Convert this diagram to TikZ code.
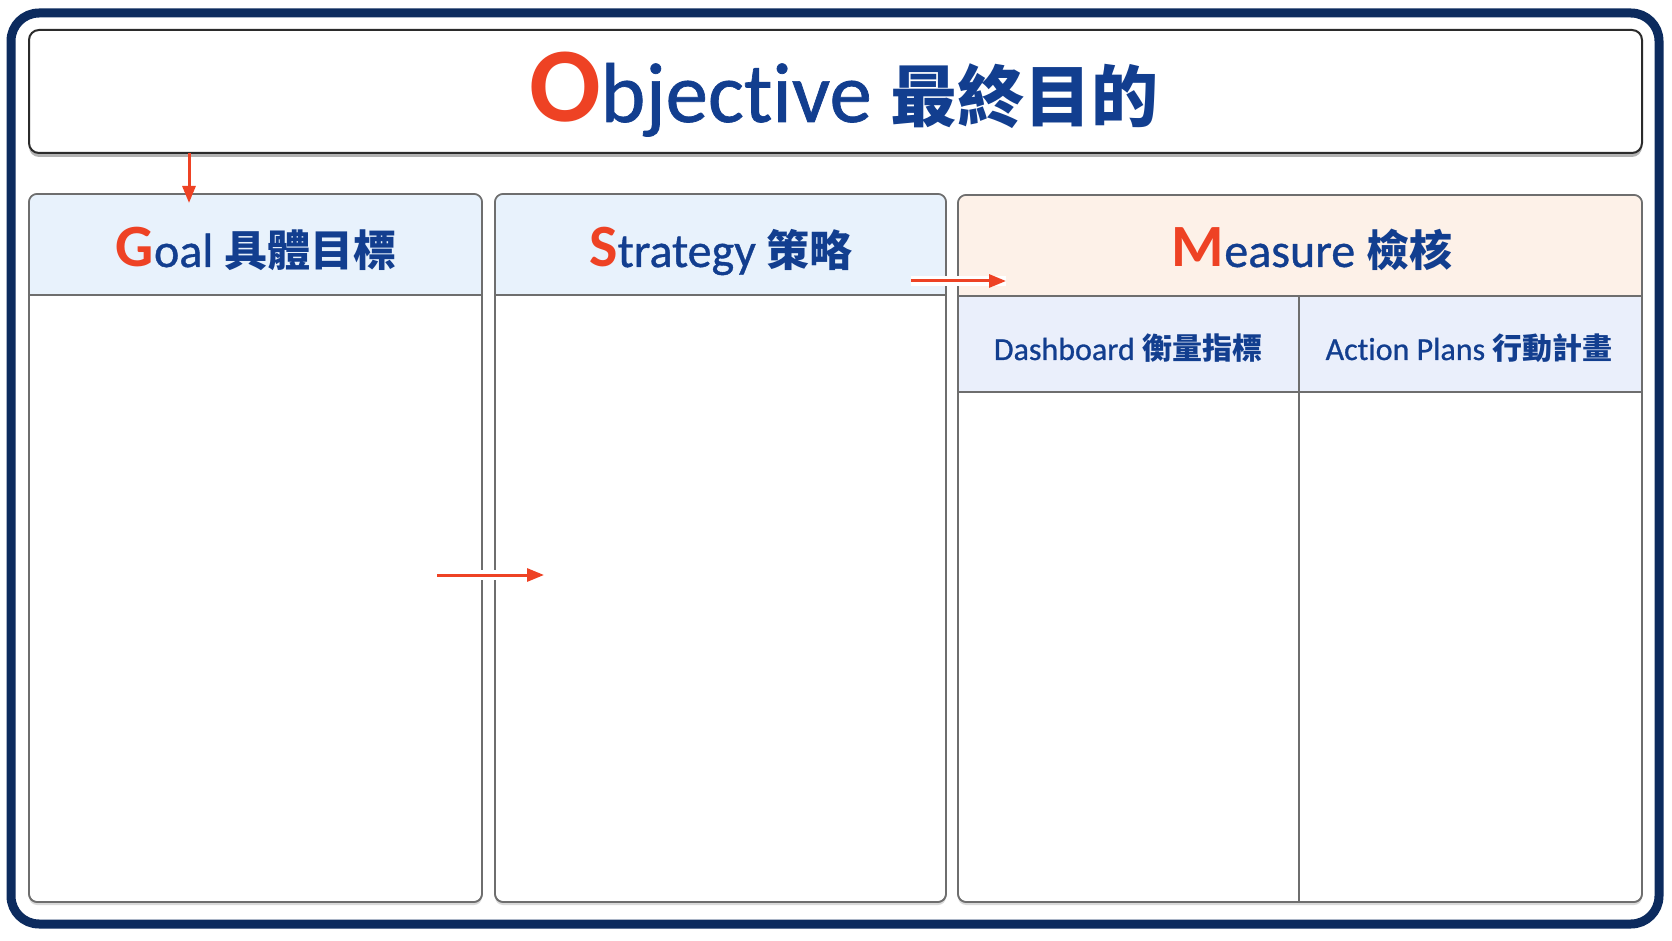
\documentclass[tikz,border=0pt]{standalone}
\usepackage{fontspec}
\setmainfont{Carlito}[Ligatures=NoCommon, UprightFeatures={FakeBold=0.8}]
\newfontfamily\cjk{Noto Sans CJK TC}
\usetikzlibrary{arrows.meta, shadows}
\definecolor{navy}{HTML}{0C2B5E}
\definecolor{titleblue}{HTML}{123E8F}
\definecolor{accent}{HTML}{EE4224}
\definecolor{edgegray}{HTML}{6E6E6E}
\definecolor{darkedge}{HTML}{2B2B2B}
\definecolor{headblue}{HTML}{E8F2FC}
\definecolor{headpeach}{HTML}{FDF1E8}
\definecolor{subblue}{HTML}{EAEFFB}
\newcommand\ini[2]{{\fontsize{#1}{#1}\selectfont\bfseries\color{accent}#2}}
\newcommand\zh[2]{{\cjk\bfseries\fontsize{#1}{#1}\selectfont #2}}

\begin{document}
\begin{tikzpicture}[x=0.5pt, y=-0.5pt,
  panel/.style={draw=edgegray, line width=0.8pt, rounded corners=4pt},
  softshadow/.style={drop shadow={shadow xshift=0pt, shadow yshift=-1.5pt, opacity=0.15, fill=black}},
  redarrow/.style={-{Triangle[length=8.5pt, width=6.5pt]}, line width=1.5pt, draw=accent},
  halo/.style={preaction={draw=white, line width=5pt, arrows=-}},
  txt/.style={inner sep=0pt, anchor=base, text=titleblue}
]
  \useasboundingbox[fill=white] (0,0) rectangle (1672,941);
  \draw[navy, line width=4.5pt, rounded corners=14pt] (11,13) rectangle (1659,924);

  \draw[fill=white, draw=darkedge, line width=1pt, rounded corners=5pt,
    drop shadow={shadow xshift=0pt, shadow yshift=-2pt, opacity=0.3, fill=black}] (29,30) rectangle (1642,153);
  \node[txt, font=\fontsize{42.5}{50}\selectfont] (objtitle) at (844,122) {\ini{53}{O}bjective \zh{33.5}{最終目的}};

  \path[fill=white, panel, softshadow] (29,194) rectangle (482,902);
  \begin{scope}
    \clip[rounded corners=4pt] (29,194) rectangle (482,902);
    \fill[headblue] (29,194) rectangle (482,295);
  \end{scope}
  \draw[panel] (29,194) rectangle (482,902);
  \draw[edgegray, line width=0.8pt] (29,295) -- (482,295);
  \node[txt, font=\fontsize{24}{28}\selectfont] (goaltitle) at (256,267) {\ini{30}{G}oal \zh{21.5}{具體目標}};

  \path[fill=white, panel, softshadow] (495,194) rectangle (946,902);
  \begin{scope}
    \clip[rounded corners=4pt] (495,194) rectangle (946,902);
    \fill[headblue] (495,194) rectangle (946,295);
  \end{scope}
  \draw[panel] (495,194) rectangle (946,902);
  \draw[edgegray, line width=0.8pt] (495,295) -- (946,295);
  \node[txt, font=\fontsize{24}{28}\selectfont] (strattitle) at (721,267) {\ini{30}{S}trategy \zh{21.5}{策略}};

  \path[fill=white, panel, softshadow] (958,195) rectangle (1642,902);
  \begin{scope}
    \clip[rounded corners=4pt] (958,195) rectangle (1642,902);
    \fill[headpeach] (958,195) rectangle (1642,296);
    \fill[subblue] (958,296) rectangle (1642,392);
  \end{scope}
  \draw[panel] (958,195) rectangle (1642,902);
  \draw[edgegray, line width=0.8pt] (958,296) -- (1642,296);
  \draw[edgegray, line width=0.8pt] (958,392) -- (1642,392);
  \draw[edgegray, line width=0.8pt] (1299,296) -- (1299,902);
  \node[txt, font=\fontsize{24}{28}\selectfont] (meastitle) at (1312,267) {\ini{30}{M}easure \zh{21.5}{檢核}};
  \node[txt, font=\fontsize{16}{19}\selectfont] (dash) at (1128,360) {Dashboard \zh{15}{衡量指標}};
  \node[txt, font=\fontsize{16}{19}\selectfont] (plans) at (1469,360) {Action Plans \zh{15}{行動計畫}};

  \coordinate (objout) at (189,153);
  \coordinate (goalin) at (189,203);
  \coordinate (goalout) at (437,575);
  \coordinate (stratin) at (544,575);
  \coordinate (stratout) at (911,281);
  \coordinate (measin) at (1006,281);
  \draw[redarrow] (objout) -- (goalin);
  \draw[redarrow, halo] (goalout) -- (stratin);
  \draw[redarrow, halo] (stratout) -- (measin);
\end{tikzpicture}
\end{document}
